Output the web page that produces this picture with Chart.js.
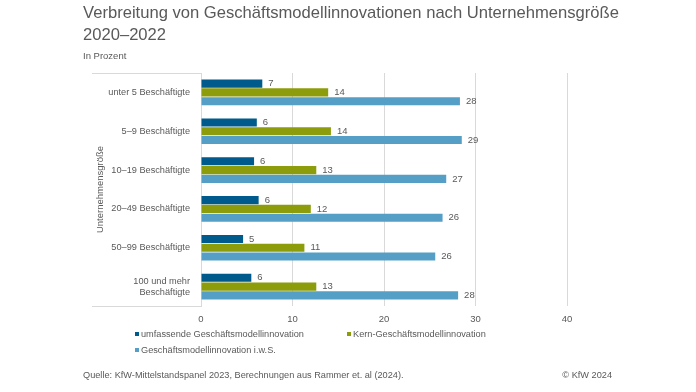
<!DOCTYPE html>
<html lang="de">
<head>
<meta charset="utf-8">
<script src="https://cdn.jsdelivr.net/npm/chart.js@4"></script>
<style>
    body { margin: 0; width: 696px; height: 392px; background: #fff; font-family: "Liberation Sans", Arial, sans-serif; color: #595959; overflow: hidden; }
    #wrap { position: relative; width: 696px; height: 392px; }
    canvas { position: absolute; left: 0; top: 0; }
    .title { position: absolute; left: 83px; top: 2px; font-size: 16.6px; line-height: 22px; color: #595959; white-space: nowrap; }
    .sub { position: absolute; left: 83px; top: 50px; font-size: 9.5px; color: #595959; }
    .legend { position: absolute; left: 135px; top: 329px; font-size: 9.2px; }
    .legend .item { position: absolute; white-space: nowrap; }
    .legend .box { display: inline-block; width: 4px; height: 4px; margin-right: 2px; vertical-align: 1px; }
    .foot { position: absolute; top: 370px; font-size: 9.2px; white-space: nowrap; }
</style>
</head>
<body>
<div id="wrap">
    <canvas id="chart" width="696" height="392"></canvas>
    <div class="title">Verbreitung von Geschäftsmodellinnovationen nach Unternehmensgröße<br>2020–2022</div>
    <div class="sub">In Prozent</div>
    <div class="legend" id="legend"></div>
    <div class="foot" style="left:83px">Quelle: KfW-Mittelstandspanel 2023, Berechnungen aus Rammer et. al (2024).</div>
    <div class="foot" style="right:84px">© KfW 2024</div>
</div>
<script>
// Categories and series
const categories = ['unter 5 Beschäftigte', '5–9 Beschäftigte', '10–19 Beschäftigte', '20–49 Beschäftigte', '50–99 Beschäftigte', ['100 und mehr', 'Beschäftigte']];
const umfassend = [6.7, 6.1, 5.8, 6.3, 4.6, 5.5];
const kern = [13.9, 14.2, 12.6, 12.0, 11.3, 12.6];
const iws = [28.3, 28.5, 26.8, 26.4, 25.6, 28.1];
const seriesNames = ['umfassende Geschäftsmodellinnovation', 'Kern-Geschäftsmodellinnovation', 'Geschäftsmodellinnovation i.w.S.'];
const seriesColors = ['#005a8c', '#8c9c0a', '#559fc6'];
const xTicks = [0, 10, 20, 30, 40];

const textColor = '#595959';
const fontFamily = '"Liberation Sans", Arial, sans-serif';

// Value labels next to bar ends
const valueLabels = {
    id: 'valueLabels',
    afterDatasetsDraw(chart) {
        const ctx = chart.ctx;
        ctx.save();
        ctx.font = '9.5px ' + fontFamily;
        ctx.fillStyle = textColor;
        ctx.textAlign = 'left';
        ctx.textBaseline = 'middle';
        chart.data.datasets.forEach((ds, i) => {
            chart.getDatasetMeta(i).data.forEach((bar, j) => {
                ctx.fillText(Math.round(ds.data[j]), bar.x + 6, bar.y);
            });
        });
        ctx.restore();
    }
};

// Short border lines above and below the category labels
const axisFrame = {
    id: 'axisFrame',
    beforeDraw(chart) {
        const ctx = chart.ctx;
        const a = chart.chartArea;
        ctx.save();
        ctx.strokeStyle = '#d9d9d9';
        ctx.lineWidth = 1;
        ctx.beginPath();
        ctx.moveTo(92, Math.round(a.top) + 0.5);
        ctx.lineTo(a.left, Math.round(a.top) + 0.5);
        ctx.moveTo(92, Math.round(a.bottom) + 0.5);
        ctx.lineTo(a.left, Math.round(a.bottom) + 0.5);
        ctx.stroke();
        ctx.restore();
    }
};

const datasets = [umfassend, kern, iws].map((values, i) => ({
    label: seriesNames[i],
    data: values,
    backgroundColor: seriesColors[i],
    categoryPercentage: 0.68,
    barPercentage: 0.92
}));

new Chart(document.getElementById('chart'), {
    type: 'bar',
    data: { labels: categories, datasets: datasets },
    options: {
        indexAxis: 'y',
        responsive: false,
        animation: false,
        layout: { padding: { top: 73, bottom: 66, left: 95, right: 129 } },
        scales: {
            x: {
                min: 0,
                max: 40,
                afterBuildTicks(scale) { scale.ticks = xTicks.map(v => ({ value: v })); },
                afterFit(scale) { scale.height = 20; },
                grid: { color: '#d9d9d9', drawTicks: false },
                border: { display: false },
                ticks: { color: textColor, font: { size: 9.5, family: fontFamily }, padding: 8 }
            },
            y: {
                afterFit(scale) { scale.width = 106; },
                grid: { display: false },
                border: { color: '#d9d9d9' },
                ticks: { color: textColor, font: { size: 9.2, family: fontFamily }, padding: 3 },
                title: { display: true, text: 'Unternehmensgröße', color: textColor, font: { size: 9.5, family: fontFamily }, padding: 0 }
            }
        },
        plugins: {
            legend: { display: false },
            tooltip: { enabled: false }
        }
    },
    plugins: [valueLabels, axisFrame]
});

// HTML legend
const legendPos = [[0, 0], [212, 0], [0, 16]];
const legend = document.getElementById('legend');
seriesNames.forEach((name, i) => {
    const item = document.createElement('div');
    item.className = 'item';
    item.style.left = legendPos[i][0] + 'px';
    item.style.top = legendPos[i][1] + 'px';
    item.innerHTML = '<span class="box" style="background:' + seriesColors[i] + '"></span>' + name;
    legend.appendChild(item);
});
</script>
</body>
</html>
